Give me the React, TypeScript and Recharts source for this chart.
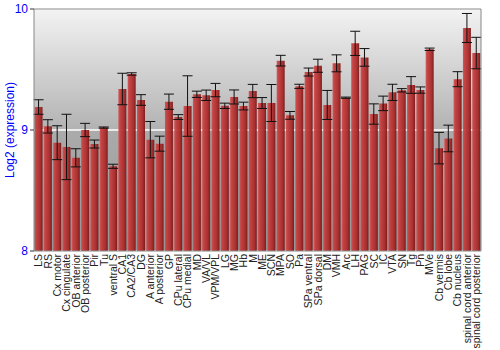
import React from 'react';
import { BarChart, Bar, XAxis, YAxis, CartesianGrid, ErrorBar, ReferenceLine } from 'recharts';

const regions = [
  'LS', 'RS', 'Cx motor', 'Cx cingulate', 'OB anterior', 'OB posterior', 'Pir', 'Tu',
  'ventral S', 'CA1', 'CA2/CA3', 'DG', 'A anterior', 'A posterior', 'GP', 'CPu lateral',
  'CPu medial', 'MD', 'VA/VL', 'VPM/VPL', 'LG', 'MG', 'Hb', 'M', 'ME', 'SCN', 'MPA', 'SO',
  'Pa', 'SPa ventral', 'SPa dorsal', 'DM', 'VMH', 'Arc', 'LH', 'PAG', 'SC', 'IC', 'VTA',
  'SN', 'Tg', 'Pn', 'MVe', 'Cb vermis', 'Cb lobe', 'Cb nucleus', 'spinal cord anterior',
  'spinal cord posterior',
];

const expression = [
  9.19, 9.03, 8.895, 8.86, 8.77, 9.0, 8.884, 9.02,
  8.7, 9.339, 9.463, 9.248, 8.92, 8.887, 9.234, 9.107,
  9.198, 9.295, 9.287, 9.33, 9.2, 9.273, 9.198, 9.322, 9.223, 9.223, 9.573, 9.121,
  9.361, 9.479, 9.531, 9.207, 9.551, 9.267, 9.716, 9.6, 9.132, 9.22, 9.311,
  9.328, 9.372, 9.33, 9.667, 8.85, 8.93, 9.42, 9.843,
  9.636,
];

const stdErr = [
  0.06, 0.055, 0.14, 0.27, 0.075, 0.055, 0.033, 0.005,
  0.017, 0.13, 0.01, 0.044, 0.15, 0.062, 0.063, 0.02,
  0.25, 0.026, 0.043, 0.055, 0.022, 0.058, 0.032, 0.055, 0.045, 0.153, 0.044, 0.032,
  0.017, 0.033, 0.054, 0.12, 0.07, 0.005, 0.1, 0.073, 0.084, 0.06, 0.067,
  0.014, 0.069, 0.026, 0.01, 0.13, 0.11, 0.062, 0.12,
  0.13,
];

const yTicks = [8, 9, 10];

const data = regions.map((name, i) => ({ name, value: expression[i], err: stdErr[i] }));

const FONT = '"Liberation Sans", Arial, sans-serif';

const RegionTick = ({ x, y, payload }: any) => (
  <g transform={`translate(${x},${y})`}>
    <text
      transform="rotate(-90)"
      textAnchor="end"
      dy="0.35em"
      fontSize={10.5}
      fontFamily={FONT}
      fill="#222"
    >
      {payload.value}
    </text>
  </g>
);

export default function App() {
  return (
    <div style={{ position: 'absolute', left: 0, top: 0, width: 500, height: 350, background: '#fff' }}>
      <BarChart
        width={500}
        height={350}
        data={data}
        margin={{ top: 9, right: 0, bottom: 0, left: 0 }}
        barCategoryGap="6%"
      >
        <defs>
          <linearGradient id="bgTop" x1="0" y1="0" x2="0" y2="1">
            <stop offset="0%" stopColor="#f3f3f3" />
            <stop offset="100%" stopColor="#b2b2b2" />
          </linearGradient>
          <linearGradient id="bgBottom" x1="0" y1="0" x2="0" y2="1">
            <stop offset="0%" stopColor="#ababab" />
            <stop offset="100%" stopColor="#969696" />
          </linearGradient>
          <linearGradient id="barFill" x1="0" y1="0" x2="1" y2="0">
            <stop offset="0%" stopColor="#d25454" />
            <stop offset="20%" stopColor="#c43e3e" />
            <stop offset="70%" stopColor="#aa2a2a" />
            <stop offset="100%" stopColor="#781616" />
          </linearGradient>
        </defs>
        <CartesianGrid
          vertical={false}
          stroke="#ffffff"
          strokeWidth={1.5}
          horizontalFill={['url(#bgTop)', 'url(#bgBottom)']}
          yAxisId="left"
        />
        <XAxis
          dataKey="name"
          interval={0}
          height={99}
          tickLine={false}
          tickSize={0}
          tickMargin={3}
          axisLine={{ stroke: '#888' }}
          tick={<RegionTick />}
        />
        <YAxis
          yAxisId="left"
          domain={[8, 10]}
          ticks={yTicks}
          width={34}
          tickSize={4}
          tickMargin={2}
          axisLine={{ stroke: '#888' }}
          tickLine={{ stroke: '#333' }}
          tick={{ fill: '#0000ff', fontSize: 12, fontFamily: FONT }}
          label={{
            value: 'Log2 (expression)',
            angle: -90,
            position: 'center',
            dx: -7,
            fill: '#0000ff',
            fontSize: 12,
            fontFamily: FONT,
          }}
        />
        <YAxis
          yAxisId="right"
          orientation="right"
          domain={[8, 10]}
          ticks={yTicks}
          width={19}
          tickSize={3}
          tickMargin={2}
          axisLine={{ stroke: '#888' }}
          tickLine={{ stroke: '#333' }}
          tick={{ fill: '#0000ff', fontSize: 12, fontFamily: FONT, textAnchor: 'start' }}
        />
        <ReferenceLine yAxisId="left" y={10} stroke="#888" />
        <Bar
          yAxisId="left"
          dataKey="value"
          fill="url(#barFill)"
          fillOpacity={0.95}
          isAnimationActive={false}
        >
          <ErrorBar dataKey="err" width={5} stroke="#111" strokeWidth={1} />
        </Bar>
      </BarChart>
    </div>
  );
}
